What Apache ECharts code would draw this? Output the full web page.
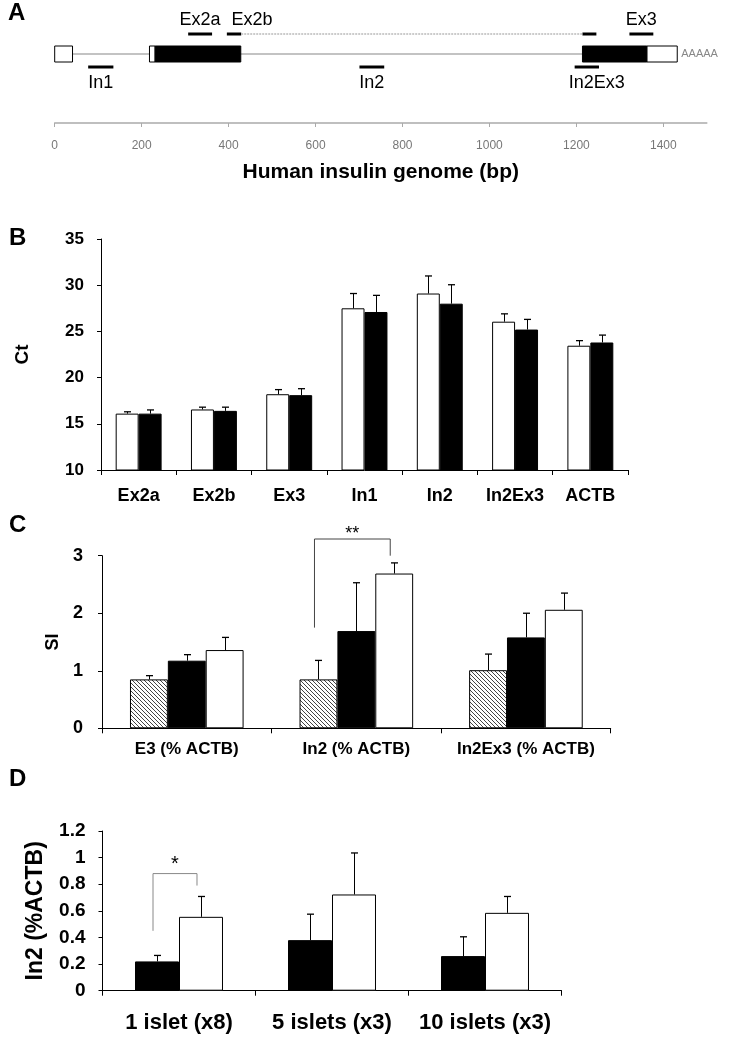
<!DOCTYPE html>
<html><head><meta charset="utf-8">
<script src="https://cdn.jsdelivr.net/npm/echarts@6/dist/echarts.min.js"></script>
<style>html,body{margin:0;padding:0;background:#fff}#c{width:730px;height:1045px}</style>
</head><body><div id="c"></div>
<script>
// ---------- Panel A data (bp) ----------
const genomeTicks = [0, 200, 400, 600, 800, 1000, 1200, 1400];
const genomeMax = 1500;
const intronSpan = [[41, 1214]];
const utrBlocks = [[0, 41], [218, 231], [1362, 1432]];
const cdsBlocks = [[231, 428], [1214, 1362]];
const primersAbove = [
  { name: 'Ex2a', parts: [[307, 362]] },
  { name: 'Ex2b', parts: [[396, 429], [1214, 1246]] },
  { name: 'Ex3', parts: [[1322, 1377]] }
];
const primersBelow = [
  { name: 'In1', parts: [[77, 135]] },
  { name: 'In2', parts: [[701, 758]] },
  { name: 'In2Ex3', parts: [[1196, 1252]] }
];
const polyATail = 'AAAAA';

// ---------- Panel B data ----------
const ctCategories = ['Ex2a', 'Ex2b', 'Ex3', 'In1', 'In2', 'In2Ex3', 'ACTB'];
const ctWhite = [16.1, 16.55, 18.2, 27.5, 29.1, 26.05, 23.45];
const ctWhiteSD = [0.2, 0.25, 0.5, 1.6, 1.9, 0.85, 0.55];
const ctBlack = [16.1, 16.4, 18.1, 27.1, 28.0, 25.2, 23.8];
const ctBlackSD = [0.4, 0.4, 0.7, 1.8, 2.05, 1.1, 0.8];

// ---------- Panel C data ----------
const siCategories = ['E3 (% ACTB)', 'In2 (% ACTB)', 'In2Ex3 (% ACTB)'];
const siHatched = [0.85, 0.85, 1.01];
const siHatchedSD = [0.065, 0.33, 0.28];
const siBlack = [1.175, 1.69, 1.58];
const siBlackSD = [0.105, 0.84, 0.42];
const siWhite = [1.36, 2.69, 2.06];
const siWhiteSD = [0.22, 0.185, 0.29];
const siSignif = [[1, 0, 2, 3.29, 1.75, 3.0, '**']]; // category, fromBar, toBar, top, leftEnd, rightEnd, label

// ---------- Panel D data ----------
const isletCategories = ['1 islet (x8)', '5 islets (x3)', '10 islets (x3)'];
const isletBlack = [0.22, 0.38, 0.26];
const isletBlackSD = [0.045, 0.195, 0.145];
const isletWhite = [0.555, 0.723, 0.585];
const isletWhiteSD = [0.153, 0.312, 0.123];
const isletSignif = [[0, 0, 1, 0.88, 0.45, 0.79, '*']];

// ---------- styles ----------
const FONT = '"Liberation Sans", Arial, sans-serif';
const GAP_B = 0.39, GAP_C = 0.33, GAP_D = 0.425;
const ROW = { topLabel: 20, topPrimer: 34, line: 54, boxHalf: 8, bottomPrimer: 67, bottomLabel: 83 };
const labelDx = { Ex2b: 18, In2Ex3: 10 };

// hatch pattern
const pc = document.createElement('canvas');
pc.width = 4; pc.height = 4;
const ctx = pc.getContext('2d');
ctx.fillStyle = '#fff'; ctx.fillRect(0, 0, 4, 4);
ctx.strokeStyle = '#444'; ctx.lineWidth = 1;
ctx.beginPath();
ctx.moveTo(0, 0); ctx.lineTo(4, 4);
ctx.moveTo(-1, 3); ctx.lineTo(1, 5);
ctx.moveTo(3, -1); ctx.lineTo(5, 1);
ctx.stroke();
const hatch = { image: pc, repeat: 'repeat' };

function blockSeries(data, fill) {
  return {
    type: 'custom', xAxisIndex: 0, yAxisIndex: 0, clip: false, z: 3,
    data: data,
    renderItem: (params, api) => {
      const a = api.coord([api.value(0), 0]), b = api.coord([api.value(1), 0]);
      return { type: 'rect', shape: { x: a[0], y: ROW.line - ROW.boxHalf, width: b[0] - a[0], height: ROW.boxHalf * 2 },
        style: { fill: fill, stroke: '#000', lineWidth: 1 } };
    }
  };
}

function primerSeries(list, above) {
  return {
    type: 'custom', xAxisIndex: 0, yAxisIndex: 0, clip: false, z: 4,
    data: list.map(p => [p.parts[0][0], p.parts[0][1]]),
    renderItem: (params, api) => {
      const p = list[params.dataIndex];
      const y = above ? ROW.topPrimer : ROW.bottomPrimer;
      const children = [];
      p.parts.forEach(pt => {
        const a = api.coord([pt[0], 0]), b = api.coord([pt[1], 0]);
        children.push({ type: 'line', shape: { x1: a[0], y1: y, x2: b[0], y2: y }, style: { stroke: '#000', lineWidth: 3 } });
      });
      if (p.parts.length > 1) {
        const a = api.coord([p.parts[0][1], 0]), b = api.coord([p.parts[p.parts.length - 1][0], 0]);
        children.push({ type: 'line', shape: { x1: a[0], y1: y, x2: b[0], y2: y }, style: { stroke: '#bbb', lineWidth: 1.5, lineDash: [2, 1] } });
      }
      const a0 = api.coord([p.parts[0][0], 0]), b0 = api.coord([p.parts[0][1], 0]);
      children.push({ type: 'text', x: (a0[0] + b0[0]) / 2 + (labelDx[p.name] || 0), y: above ? ROW.topLabel : ROW.bottomLabel,
        style: { text: p.name, fontSize: 18, fontFamily: FONT, fill: '#000', align: 'center', verticalAlign: 'middle' } });
      return { type: 'group', children: children };
    }
  };
}

function errSeries(xi, values, errs, idx, n, gap) {
  return {
    type: 'custom', xAxisIndex: xi, yAxisIndex: xi, clip: false, z: 6,
    data: values.map((v, i) => [i, v, errs[i]]),
    renderItem: (params, api) => {
      const c = api.value(0), v = api.value(1), e = api.value(2);
      const p0 = api.coord([c, v]), p1 = api.coord([c, v + e]);
      const band = api.size([1, 0])[0];
      const bw = band * (1 - gap) / n;
      const x = Math.round(p0[0] + (idx - (n - 1) / 2) * bw) + 0.5;
      return { type: 'group', children: [
        { type: 'line', shape: { x1: x, y1: p0[1], x2: x, y2: p1[1] }, style: { stroke: '#000', lineWidth: 1 } },
        { type: 'line', shape: { x1: x - 3.5, y1: p1[1], x2: x + 3.5, y2: p1[1] }, style: { stroke: '#000', lineWidth: 1.3 } }
      ] };
    }
  };
}

function signifSeries(xi, data, n, gap, color, fontSize, textDy) {
  return {
    type: 'custom', xAxisIndex: xi, yAxisIndex: xi, clip: false, z: 7,
    data: data.map(d => d.slice(0, 6)),
    renderItem: (params, api) => {
      const d = data[params.dataIndex];
      const band = api.size([1, 0])[0];
      const bw = band * (1 - gap) / n;
      const c = api.coord([d[0], d[3]]);
      const xl = c[0] + (d[1] - (n - 1) / 2) * bw - 4;
      const xr = c[0] + (d[2] - (n - 1) / 2) * bw - 4;
      const yt = c[1];
      const yl = api.coord([d[0], d[4]])[1], yr = api.coord([d[0], d[5]])[1];
      return { type: 'group', children: [
        { type: 'polyline', shape: { points: [[xl, yl], [xl, yt], [xr, yt], [xr, yr]] }, style: { stroke: color, lineWidth: 1, fill: null } },
        { type: 'text', x: (xl + xr) / 2, y: yt + textDy, style: { text: d[6], fontSize: fontSize, fontFamily: FONT, fill: '#000', align: 'center', verticalAlign: 'middle' } }
      ] };
    }
  };
}

const catAxisBase = (idx, cats, fs, margin) => ({
  type: 'category', gridIndex: idx, data: cats,
  axisLine: { lineStyle: { color: '#000', width: 1 } },
  axisTick: { show: true, alignWithLabel: false, interval: 0, length: 5, lineStyle: { color: '#000' } },
  axisLabel: { interval: 0, fontSize: fs, fontWeight: 'bold', color: '#000', margin: margin, fontFamily: FONT },
  splitLine: { show: false }
});
const valAxisBase = (idx, min, max, interval, fs, name, nameFs, nameGap, margin) => ({
  type: 'value', gridIndex: idx, min: min, max: max, interval: interval,
  name: name, nameLocation: 'middle', nameRotate: 90, nameGap: nameGap,
  nameTextStyle: { fontSize: nameFs, fontWeight: 'bold', color: '#000', fontFamily: FONT },
  axisLine: { show: true, lineStyle: { color: '#000', width: 1 } },
  axisTick: { show: true, length: 4, lineStyle: { color: '#000' } },
  axisLabel: { fontSize: fs, fontWeight: 'bold', color: '#000', margin: margin, fontFamily: FONT },
  splitLine: { show: false }
});

const yB = valAxisBase(1, 10, 35, 5, 17, 'Ct', 19, 69, 17);
const yC = valAxisBase(2, 0, 3, 1, 18, 'SI', 18, 35, 19);
const yD = valAxisBase(3, 0, 1.2, 0.2, 19, 'In2 (%ACTB)', 23, 55, 17);

const barStyle = (fill) => ({ color: fill, borderColor: '#000', borderWidth: 1 });

const option = {
  animation: false,
  backgroundColor: '#fff',
  textStyle: { fontFamily: FONT },
  grid: [
    { left: 54.7, top: 0, width: 652.1, height: 123 },
    { left: 101, top: 239, width: 527, height: 231 },
    { left: 102, top: 555.7, width: 508.7, height: 172.6 },
    { left: 102.5, top: 831, width: 459, height: 159.7 }
  ],
  xAxis: [
    { type: 'value', gridIndex: 0, min: 0, max: genomeMax, interval: 200,
      name: 'Human insulin genome (bp)', nameLocation: 'middle', nameGap: 39,
      nameTextStyle: { fontSize: 21, fontWeight: 'bold', color: '#000', fontFamily: FONT },
      axisLine: { lineStyle: { color: '#aaa', width: 1.5 } },
      axisTick: { show: true, length: 4, customValues: genomeTicks, lineStyle: { color: '#aaa' } },
      axisLabel: { fontSize: 12, color: '#777', margin: 17, customValues: genomeTicks, formatter: v => String(v) },
      splitLine: { show: false } },
    catAxisBase(1, ctCategories, 18, 17),
    catAxisBase(2, siCategories, 17, 13),
    catAxisBase(3, isletCategories, 22, 21)
  ],
  yAxis: [
    { type: 'value', gridIndex: 0, min: 0, max: 1, show: false },
    yB, yC, yD
  ],
  graphic: [
    { type: 'text', left: 8, top: 1, style: { text: 'A', fontSize: 24, fontWeight: 'bold', fontFamily: FONT, fill: '#000' } },
    { type: 'text', left: 9, top: 226, style: { text: 'B', fontSize: 24, fontWeight: 'bold', fontFamily: FONT, fill: '#000' } },
    { type: 'text', left: 9, top: 513, style: { text: 'C', fontSize: 24, fontWeight: 'bold', fontFamily: FONT, fill: '#000' } },
    { type: 'text', left: 9, top: 767, style: { text: 'D', fontSize: 24, fontWeight: 'bold', fontFamily: FONT, fill: '#000' } }
  ],
  series: [
    // Panel A
    { type: 'custom', xAxisIndex: 0, yAxisIndex: 0, clip: false, z: 2, data: intronSpan,
      renderItem: (params, api) => {
        const a = api.coord([api.value(0), 0]), b = api.coord([api.value(1), 0]);
        return { type: 'line', shape: { x1: a[0], y1: ROW.line, x2: b[0], y2: ROW.line }, style: { stroke: '#888', lineWidth: 1.2 } };
      } },
    blockSeries(utrBlocks, '#fff'),
    blockSeries(cdsBlocks, '#000'),
    primerSeries(primersAbove, true),
    primerSeries(primersBelow, false),
    { type: 'custom', xAxisIndex: 0, yAxisIndex: 0, clip: false, z: 4, data: [[utrBlocks[utrBlocks.length - 1][1], 0]],
      renderItem: (params, api) => {
        const a = api.coord([api.value(0), 0]);
        return { type: 'text', x: a[0] + 4, y: ROW.line, style: { text: polyATail, fontSize: 11, fontFamily: FONT, fill: '#888', align: 'left', verticalAlign: 'middle' } };
      } },
    // Panel B
    { type: 'bar', xAxisIndex: 1, yAxisIndex: 1, data: ctWhite, barGap: '0%', barCategoryGap: (GAP_B * 100) + '%', itemStyle: barStyle('#fff') },
    { type: 'bar', xAxisIndex: 1, yAxisIndex: 1, data: ctBlack, barGap: '0%', barCategoryGap: (GAP_B * 100) + '%', itemStyle: barStyle('#000') },
    errSeries(1, ctWhite, ctWhiteSD, 0, 2, GAP_B),
    errSeries(1, ctBlack, ctBlackSD, 1, 2, GAP_B),
    // Panel C
    { type: 'bar', xAxisIndex: 2, yAxisIndex: 2, data: siHatched, barGap: '0%', barCategoryGap: (GAP_C * 100) + '%', itemStyle: barStyle(hatch) },
    { type: 'bar', xAxisIndex: 2, yAxisIndex: 2, data: siBlack, barGap: '0%', barCategoryGap: (GAP_C * 100) + '%', itemStyle: barStyle('#000') },
    { type: 'bar', xAxisIndex: 2, yAxisIndex: 2, data: siWhite, barGap: '0%', barCategoryGap: (GAP_C * 100) + '%', itemStyle: barStyle('#fff') },
    errSeries(2, siHatched, siHatchedSD, 0, 3, GAP_C),
    errSeries(2, siBlack, siBlackSD, 1, 3, GAP_C),
    errSeries(2, siWhite, siWhiteSD, 2, 3, GAP_C),
    signifSeries(2, siSignif, 3, GAP_C, '#444', 18, -5),
    // Panel D
    { type: 'bar', xAxisIndex: 3, yAxisIndex: 3, data: isletBlack, barGap: '0%', barCategoryGap: (GAP_D * 100) + '%', itemStyle: barStyle('#000') },
    { type: 'bar', xAxisIndex: 3, yAxisIndex: 3, data: isletWhite, barGap: '0%', barCategoryGap: (GAP_D * 100) + '%', itemStyle: barStyle('#fff') },
    errSeries(3, isletBlack, isletBlackSD, 0, 2, GAP_D),
    errSeries(3, isletWhite, isletWhiteSD, 1, 2, GAP_D),
    signifSeries(3, isletSignif, 2, GAP_D, '#888', 20, -9)
  ]
};

const chart = echarts.init(document.getElementById('c'), null, { renderer: 'canvas' });
chart.setOption(option);
</script>
</body></html>
